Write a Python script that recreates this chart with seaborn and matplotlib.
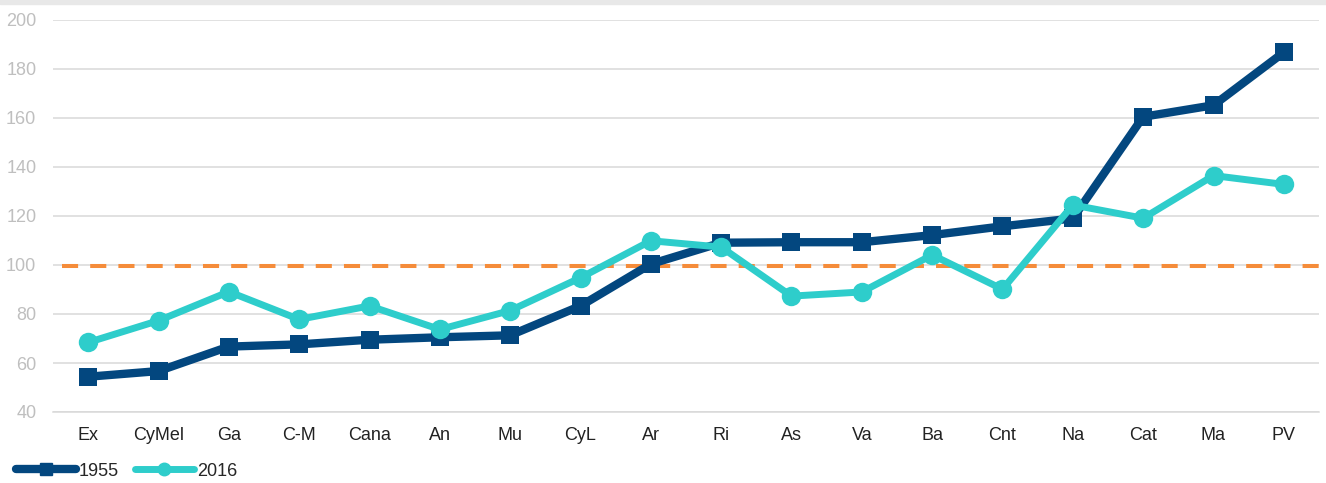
import numpy as np
import pandas as pd
import matplotlib
matplotlib.use("Agg")
import matplotlib.pyplot as plt
from matplotlib.lines import Line2D
from matplotlib.patches import Rectangle
import seaborn as sns

# Regions and index values per year
regions = ["Ex", "CyMel", "Ga", "C-M", "Cana", "An", "Mu", "CyL", "Ar",
           "Ri", "As", "Va", "Ba", "Cnt", "Na", "Cat", "Ma", "PV"]
values_1955 = [54.4, 56.7, 66.7, 67.6, 69.5, 70.5, 71.3, 83.3, 100.4,
               109.1, 109.3, 109.3, 112.2, 115.8, 119.0, 160.5, 165.2, 186.8]
values_2016 = [68.4, 77.3, 89.1, 77.8, 83.3, 73.7, 81.4, 94.8, 109.9,
               107.3, 87.3, 89.0, 104.1, 90.1, 124.5, 119.1, 136.5, 132.9]
reference_level = 99.4
y_ticks = [40, 60, 80, 100, 120, 140, 160, 180, 200]

NAVY = "#03477f"
TEAL = "#2ecdcb"
ORANGE = "#f58c3a"
GRID = "#d9d9d9"

sns.set_theme(style="white")
plt.rcParams["font.family"] = ["Liberation Sans", "DejaVu Sans"]

df = pd.DataFrame({
    "pos": list(range(len(regions))) * 2,
    "value": values_1955 + values_2016,
    "year": ["1955"] * len(regions) + ["2016"] * len(regions),
})

fig = plt.figure(figsize=(13.26, 4.83), dpi=100)
ax = fig.add_axes([53 / 1326, 1 - 412 / 483, 1266 / 1326, 392 / 483])

# top band
fig.patches.append(Rectangle((0, 1 - 4 / 483), 1, 4 / 483, transform=fig.transFigure,
                             color="#e8e8e8", zorder=0))

ax.set_ylim(40, 200)
ax.set_xlim(-0.5, len(regions) - 0.5)
ax.set_yticks(y_ticks)
ax.set_axisbelow(True)
ax.yaxis.grid(True, color=GRID, lw=1.1)
ax.xaxis.grid(False)

# reference line
ax.plot([-0.37, len(regions) - 0.41], [reference_level, reference_level],
        color=ORANGE, lw=2.9, dashes=(4.0, 3.0), clip_on=False, zorder=2)

sns.lineplot(data=df, x="pos", y="value", hue="year", style="year",
             palette={"1955": NAVY, "2016": TEAL},
             markers={"1955": "s", "2016": "o"}, dashes=False,
             linewidth=5, markersize=13, markeredgewidth=0,
             legend=False, ax=ax, zorder=3)
series_lines = ax.lines[-2:]
series_lines[0].set_linewidth(6)
series_lines[0].set_markersize(12.5)
series_lines[1].set_linewidth(5)
series_lines[1].set_markersize(14)

ax.set_xticks(range(len(regions)))
ax.set_xticklabels(regions, fontsize=13, color="#222222")
ax.set_xticks(np.arange(-0.5, len(regions), 1.0), minor=True)
ax.tick_params(axis="x", which="major", length=0, pad=10.5)
ax.tick_params(axis="x", which="minor", length=5, width=1.1, color=GRID, direction="out")
ax.tick_params(axis="y", length=0, pad=12, labelsize=13, labelcolor="#bfbfbf")
ax.set_xlabel("")
ax.set_ylabel("")

for side in ["top", "right", "left"]:
    ax.spines[side].set_visible(False)
ax.spines["bottom"].set_color(GRID)
ax.spines["bottom"].set_linewidth(1.1)

handles = [
    Line2D([], [], color=NAVY, lw=6, marker="s", markersize=9, solid_capstyle="round"),
    Line2D([], [], color=TEAL, lw=5, marker="o", markersize=9, solid_capstyle="round"),
]
fig.legend(handles, ["1955", "2016"], loc="center left",
           bbox_to_anchor=(16 / 1326, 1 - 471 / 483), ncol=2, frameon=False,
           fontsize=13, handlelength=3.3, handletextpad=0.15, columnspacing=0.9,
           borderaxespad=0, borderpad=0)

fig.savefig("out.png", dpi=100)
